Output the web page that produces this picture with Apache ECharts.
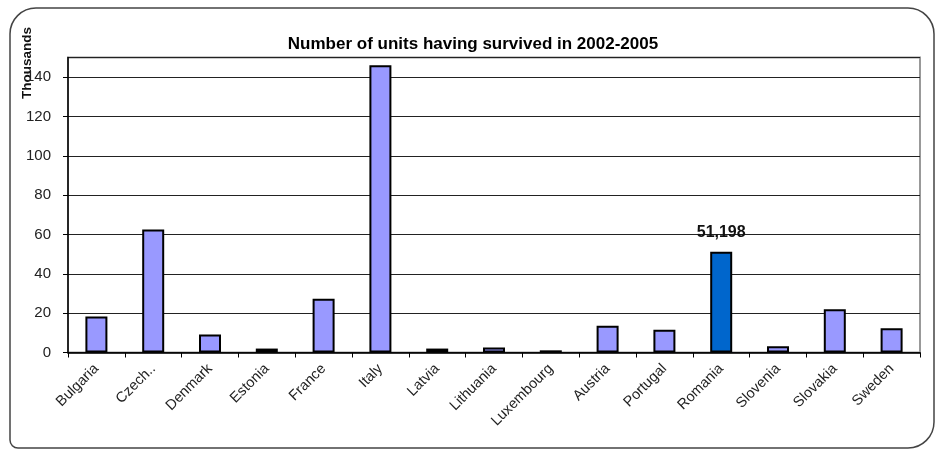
<!DOCTYPE html>
<html>
<head>
<meta charset="utf-8">
<script src="https://cdn.jsdelivr.net/npm/echarts@6/dist/echarts.min.js"></script>
<style>
  html, body { margin: 0; padding: 0; background: #fff; }
  #chart { width: 936px; height: 451px; }
</style>
</head>
<body>
<div id="chart"></div>
<script>
// Surviving units per country, thousands
const categories = ['Bulgaria', 'Czech..', 'Denmark', 'Estonia', 'France', 'Italy', 'Latvia',
  'Lithuania', 'Luxembourg', 'Austria', 'Portugal', 'Romania', 'Slovenia', 'Slovakia', 'Sweden'];
const values = [18.3, 62.5, 9.2, 2.0, 27.3, 146, 2.0, 2.6, 1.1, 13.6, 11.6, 51.198, 3.2, 22, 12.3];
const highlightCategory = 'Romania';
const highlightLabel = '51,198';
const titleText = 'Number of units having survived in 2002-2005';
const unitText = 'Thousands';

const FONT = '"Liberation Sans", Arial, sans-serif';

const barData = categories.map((c, i) => {
  const item = { value: values[i] };
  if (c === highlightCategory) {
    item.itemStyle = { color: '#0066cc' };
    item.label = {
      show: true, position: 'top', distance: 11,
      formatter: highlightLabel,
      fontFamily: FONT, fontSize: 16, fontWeight: 'bold', color: '#111'
    };
  }
  return item;
});

const chart = echarts.init(document.getElementById('chart'), null, { renderer: 'canvas' });
chart.setOption({
  animation: false,
  backgroundColor: '#fff',
  title: {
    text: titleText,
    left: 468, top: 31, textAlign: 'center',
    textStyle: { fontFamily: FONT, fontSize: 17, fontWeight: 'bold', color: '#000' }
  },
  graphic: [
    {
      type: 'rect', silent: true, z: -1,
      shape: { x: 10, y: 8, width: 924, height: 440, r: [26, 26, 26, 8] },
      style: { fill: 'none', stroke: '#444', lineWidth: 1.5 }
    },
    {
      type: 'text', silent: true,
      x: 27, y: 63, rotation: Math.PI / 2,
      style: {
        text: unitText, fontFamily: FONT, fontSize: 13.5, fontWeight: 'bold',
        fill: '#111', align: 'center', verticalAlign: 'middle'
      }
    }
  ],
  grid: {
    left: 68, right: 16, top: 57.5, bottom: 98.5,
    show: true, borderColor: '#999', borderWidth: 2, backgroundColor: 'transparent'
  },
  xAxis: {
    type: 'category',
    data: categories,
    boundaryGap: true,
    axisLine: { lineStyle: { color: '#000', width: 1.5 } },
    axisTick: { show: true, length: 5, inside: false, alignWithLabel: false, lineStyle: { color: '#000' } },
    axisLabel: {
      rotate: 45, interval: 0, margin: 14,
      fontFamily: FONT, fontSize: 14.5, color: '#222'
    }
  },
  yAxis: {
    type: 'value',
    min: 0, max: 150, interval: 20,
    axisLine: { show: true, lineStyle: { color: '#000', width: 1.5 } },
    axisTick: { show: true, length: 5, lineStyle: { color: '#000' } },
    axisLabel: {
      margin: 17, showMaxLabel: false,
      fontFamily: FONT, fontSize: 15, color: '#222'
    },
    splitLine: { show: true, lineStyle: { color: '#222', width: 1 } }
  },
  series: [{
    type: 'bar',
    data: barData,
    barWidth: 22,
    itemStyle: { color: '#9999ff', borderColor: '#000', borderWidth: 2 }
  }]
});
</script>
</body>
</html>
